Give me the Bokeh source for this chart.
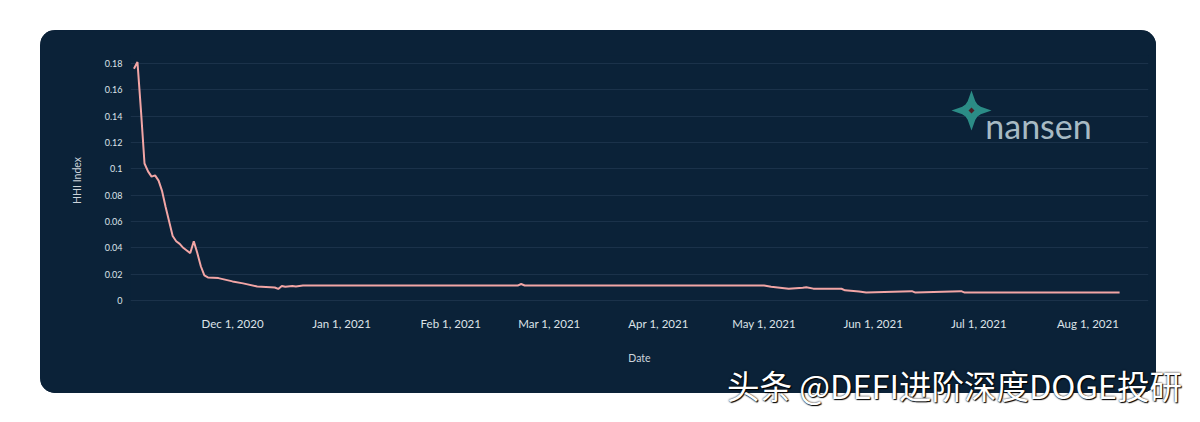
import math
import pandas as pd
from bokeh.plotting import figure
from bokeh.layouts import column
from bokeh.models import (Range1d, FixedTicker, DatetimeTickFormatter, NumeralTickFormatter,
                          PolyAnnotation, Label, Div)
from bokeh.embed import file_html
from bokeh.resources import INLINE

# ---- data ----
DATES = [
    "2020-11-03", "2020-11-04", "2020-11-05", "2020-11-06", "2020-11-07", "2020-11-08",
    "2020-11-09", "2020-11-10", "2020-11-11", "2020-11-12", "2020-11-13", "2020-11-14",
    "2020-11-15", "2020-11-16", "2020-11-17", "2020-11-18", "2020-11-19", "2020-11-20",
    "2020-11-21", "2020-11-22", "2020-11-23", "2020-11-24", "2020-11-27", "2020-12-01",
    "2020-12-04", "2020-12-08", "2020-12-13", "2020-12-14", "2020-12-15", "2020-12-16",
    "2020-12-18", "2020-12-19", "2020-12-21", "2021-02-20", "2021-02-21", "2021-02-22",
    "2021-05-01", "2021-05-03", "2021-05-08", "2021-05-12", "2021-05-13", "2021-05-15",
    "2021-05-23", "2021-05-24", "2021-05-28", "2021-05-30", "2021-06-12", "2021-06-13",
    "2021-06-26", "2021-06-27", "2021-08-10",
]
HHI = [
    0.176, 0.181, 0.144, 0.104, 0.098, 0.094,
    0.095, 0.091, 0.083, 0.071, 0.060, 0.049,
    0.045, 0.043, 0.040, 0.038, 0.036, 0.045,
    0.036, 0.026, 0.019, 0.0175, 0.017, 0.0145,
    0.013, 0.0106, 0.0099, 0.0088, 0.0110, 0.0104,
    0.0110, 0.0106, 0.0113, 0.0113, 0.0125, 0.0114,
    0.0114, 0.0105, 0.0090, 0.0097, 0.0101, 0.0090,
    0.0089, 0.0077, 0.0068, 0.0060, 0.0071, 0.0060,
    0.0071, 0.0060, 0.0060,
]
X_TICKS = ["2020-12-01", "2021-01-01", "2021-02-01", "2021-03-01", "2021-04-01",
           "2021-05-01", "2021-06-01", "2021-07-01", "2021-08-01"]
Y_TICKS = [0, 0.02, 0.04, 0.06, 0.08, 0.1, 0.12, 0.14, 0.16, 0.18]
X_TITLE = "Date"
Y_TITLE = "HHI Index"
LOGO_TEXT = "nansen"
WATERMARK = "头条 @DEFI进阶深度DOGE投研"

PANEL = "#0b2238"
GRID = "#1b324a"
TICK_COL = "#dde3e8"
TITLE_COL = "#cdd5dc"
LINE = "#f2a5a5"

dates = pd.to_datetime(DATES)
x_ticks_ms = [pd.Timestamp(d).value // 10**6 for d in X_TICKS]

p = figure(width=1116, height=363, output_backend="svg", toolbar_location=None,
           x_axis_type="datetime",
           x_range=Range1d(pd.Timestamp("2020-11-02 00:30"), pd.Timestamp("2021-08-18 05:00")),
           y_range=Range1d(-0.0038, 0.186),
           min_border_left=90, min_border_right=8, min_border_top=25, min_border_bottom=88)
p.border_fill_color = PANEL
p.background_fill_color = PANEL
p.outline_line_color = None
p.margin = (30, 0, 0, 40)
p.styles = {"border-radius": "15px", "overflow": "hidden", "background-color": PANEL}

p.line(dates, HHI, line_color=LINE, line_width=2)

# axes
p.xaxis.ticker = FixedTicker(ticks=x_ticks_ms)
fmt = "%b %-d, %Y"
p.xaxis.formatter = DatetimeTickFormatter(milliseconds=fmt, seconds=fmt, minsec=fmt, minutes=fmt,
                                          hourmin=fmt, hours=fmt, days=fmt, months=fmt, years=fmt)
p.yaxis.ticker = FixedTicker(ticks=Y_TICKS)
p.yaxis.formatter = NumeralTickFormatter(format="0.[00]")
for ax in (p.xaxis[0], p.yaxis[0]):
    ax.axis_line_color = None
    ax.major_tick_line_color = None
    ax.minor_tick_line_color = None
    ax.major_tick_out = 0
    ax.major_tick_in = 0
    ax.minor_tick_out = 0
    ax.minor_tick_in = 0
    ax.major_label_text_color = TICK_COL
    ax.major_label_text_font = "Lato"
    ax.axis_label_text_color = TITLE_COL
    ax.axis_label_text_font = "Lato"
    ax.axis_label_text_font_style = "normal"
    ax.axis_label_text_font_size = "10.5px"
p.xaxis.major_label_text_font_size = "11.5px"
p.yaxis.major_label_text_font_size = "9px"
p.xaxis.major_label_standoff = 11
p.yaxis.major_label_standoff = 8
p.xaxis.axis_label = X_TITLE
p.yaxis.axis_label = Y_TITLE
p.xaxis.axis_label_standoff = 19
p.yaxis.axis_label_standoff = 19

p.xgrid.grid_line_color = None
p.ygrid.grid_line_color = GRID
p.ygrid.grid_line_width = 1

# nansen logo (star + wordmark); screen units are relative to the plot frame, y from bottom
cx, cy = 841, 195
xs, ys = [], []
for i in range(16):
    a = math.pi / 2 + i * math.pi / 8
    r = [20, 10, 8.5, 10][i % 4]
    xs.append(cx + r * math.cos(a))
    ys.append(cy + r * math.sin(a))
p.add_layout(PolyAnnotation(xs=xs, ys=ys, xs_units="screen", ys_units="screen",
                            fill_color="#2b8c86", fill_alpha=1, line_alpha=0, level="overlay"))
dx, dy = [cx, cx + 3, cx, cx - 3], [cy + 3, cy, cy - 3, cy]
p.add_layout(PolyAnnotation(xs=dx, ys=dy, xs_units="screen", ys_units="screen",
                            fill_color="#4a1f26", fill_alpha=1, line_alpha=0, level="overlay"))
p.add_layout(Label(x=908, y=180, x_units="screen", y_units="screen", text=LOGO_TEXT,
                   text_font="Lato", text_font_size="34px", text_color="#a7bac4",
                   text_align="center", text_baseline="middle", level="overlay"))

# watermark overlapping the bottom-right of the panel
wm = Div(text=('<span style="font-family:\'Noto Sans CJK SC\'; font-size:32.5px; line-height:32px; '
               'color:white; white-space:nowrap; '
               'text-shadow:0 0 2px #000, 1px 1px 1px #000;">' + WATERMARK + '</span>'),
         width=470, height=34, margin=(-24, 0, 0, 727))

root = column(p, wm)
open("out.html", "w").write(file_html(root, INLINE))
